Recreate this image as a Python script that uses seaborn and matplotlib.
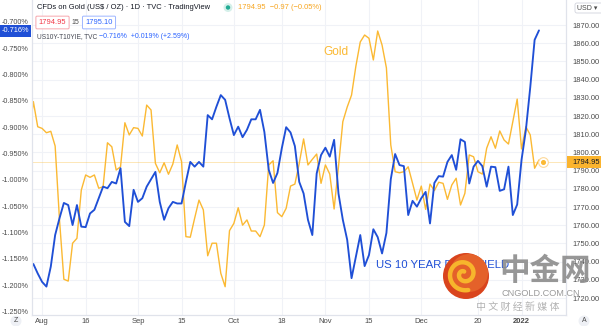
import numpy as np
import pandas as pd
import matplotlib
matplotlib.use("Agg")
import matplotlib.pyplot as plt
import matplotlib.transforms as mtransforms
from matplotlib.patches import Circle, Rectangle, FancyBboxPatch
from matplotlib.lines import Line2D
import seaborn as sns

# ---- data -------------------------------------------------------------
trading_days = pd.bdate_range("2021-07-28", "2022-01-10")

gold_close = [
    1807.9, 1827.9, 1814.1, 1813.2, 1810.8, 1811.6, 1803.5, 1762.9, 1730.3, 1729.3,
    1750.1, 1752.8, 1779.3, 1787.6, 1786.3, 1787.6, 1780.3, 1781.2, 1805.3, 1803.1,
    1790.3, 1792.1, 1816.3, 1809.6, 1813.6, 1813.2, 1809.0, 1826.0, 1823.3, 1794.0,
    1788.8, 1794.3, 1788.0, 1793.6, 1804.1, 1794.9, 1753.7, 1753.4, 1763.8, 1773.8,
    1768.4, 1743.2, 1750.1, 1750.1, 1733.6, 1726.2, 1757.0, 1761.0, 1769.6, 1760.0,
    1762.9, 1756.8, 1756.8, 1753.7, 1760.1, 1793.1, 1795.4, 1766.9, 1764.7, 1769.3,
    1781.5, 1782.6, 1794.0, 1807.4, 1793.1, 1796.2, 1799.1, 1783.0, 1793.1, 1788.1,
    1768.9, 1792.1, 1816.9, 1824.9, 1831.5, 1847.5, 1860.7, 1864.5, 1862.7, 1850.8,
    1866.7, 1859.0, 1846.4, 1804.1, 1789.4, 1788.8, 1789.4, 1792.1, 1783.0, 1773.8,
    1781.5, 1768.7, 1782.6, 1779.0, 1783.6, 1783.0, 1774.2, 1782.1, 1785.8, 1771.1,
    1777.5, 1798.6, 1797.6, 1789.4, 1788.1, 1802.3, 1808.6, 1802.3, 1811.8, 1806.8,
    1804.6, 1816.9, 1829.3, 1801.9, 1814.1, 1809.6, 1791.3, 1795.8, 1794.95,
]

real_yield = [
    -1.168, -1.160, -1.178, -1.194, -1.203, -1.165, -1.105, -1.073, -1.044, -1.048,
    -1.086, -1.048, -1.089, -1.090, -1.064, -1.057, -1.035, -1.013, -1.016, -1.004,
    -1.007, -0.978, -1.080, -1.088, -1.019, -1.042, -1.035, -1.013, -0.999, -0.985,
    -1.042, -1.076, -1.054, -1.042, -1.045, -1.045, -1.004, -0.966, -0.975, -0.966,
    -0.975, -0.877, -0.885, -0.861, -0.839, -0.848, -0.883, -0.915, -0.899, -0.919,
    -0.905, -0.885, -0.885, -0.867, -0.909, -0.981, -1.006, -0.987, -0.940, -0.900,
    -0.910, -0.936, -1.004, -1.026, -1.076, -1.105, -0.988, -0.953, -0.939, -0.956,
    -0.924, -1.026, -1.076, -1.114, -1.187, -1.146, -1.105, -1.164, -1.143, -1.094,
    -1.109, -1.140, -1.101, -0.999, -0.951, -0.972, -0.974, -1.067, -1.040, -1.051,
    -1.035, -1.023, -1.083, -1.006, -0.993, -0.994, -0.966, -0.953, -0.981, -0.923,
    -0.928, -1.007, -0.975, -0.964, -0.974, -1.013, -0.975, -0.976, -1.021, -1.018,
    -0.975, -1.067, -1.047, -0.962, -0.905, -0.824, -0.734, -0.716,
]

tick_dates = ["2021-08-02", "2021-08-16", "2021-09-01", "2021-09-15", "2021-10-01",
              "2021-10-18", "2021-11-01", "2021-11-15", "2021-12-01", "2021-12-20",
              "2022-01-03"]
tick_labels = ["Aug", "16", "Sep", "15", "Oct", "18", "Nov", "15", "Dec", "20", "2022"]

yield_ticks = [-0.70, -0.75, -0.80, -0.85, -0.90, -0.95, -1.00, -1.05, -1.10, -1.15,
               -1.20, -1.25]
gold_ticks = [1720, 1730, 1740, 1750, 1760, 1770, 1780, 1790, 1800, 1810, 1820, 1830,
              1840, 1850, 1860, 1870]

# ---- style ------------------------------------------------------------
sns.set_theme(style="white")
plt.rcParams["font.family"] = ["Liberation Sans", "Noto Sans CJK SC", "DejaVu Sans"]

GOLD = "#fbb933"
BLUE = "#1f4fd6"
TXT = "#4a4a4a"
GRID = "#f0f2f7"
EDGE = "#e0e3eb"

W, H = 601, 326
fig = plt.figure(figsize=(W / 100, H / 100), dpi=100, facecolor="white")
PIX = mtransforms.IdentityTransform()


def fx(x):
    return x / W


def fy(y):
    return 1 - y / H


ax = fig.add_axes([fx(32), (H - 315) / H, (566 - 32) / W, 315 / H])
ax2 = ax.twinx()

x_gold = np.arange(len(gold_close))
x_yield = np.arange(len(real_yield))

sns.lineplot(x=x_gold, y=gold_close, ax=ax, color=GOLD, linewidth=1.0)
sns.lineplot(x=x_yield, y=real_yield, ax=ax2, color=BLUE, linewidth=1.35)

# last price line and marker
ax.axhline(gold_close[-1], color=GOLD, lw=0.7, alpha=0.35)
ax.plot(x_gold[-1], gold_close[-1], "o", ms=7, mfc="white", mec="#fdd99a", mew=0.8, zorder=5)
ax.plot(x_gold[-1], gold_close[-1], "o", ms=2.6, color=GOLD, zorder=6)

ax.set_xlim(0.69, 123.2)
ax.set_ylim(1710.66, 1883.74)
ax2.set_ylim(-1.2570, -0.6582)

tick_idx = trading_days.get_indexer(pd.to_datetime(tick_dates))
ax.set_xticks(tick_idx)
ax.set_xticklabels(tick_labels)
for lbl in ax.get_xticklabels():
    if lbl.get_text() == "2022":
        lbl.set_fontweight("bold")

ax.set_yticks(gold_ticks)
ax.set_yticklabels([f"{v:.2f}" for v in gold_ticks])
ax.yaxis.tick_right()
ax2.set_yticks(yield_ticks)
ax2.set_yticklabels([f"{v:.3f}%" for v in yield_ticks])
ax2.yaxis.tick_left()

ax.tick_params(axis="x", length=0, pad=2.5, labelsize=5.5, colors=TXT)
ax.tick_params(axis="y", length=0, pad=4.3, labelsize=5.4, colors=TXT)
ax2.tick_params(axis="y", length=0, pad=2.3, labelsize=5.2, colors=TXT)
ax2.tick_params(axis="x", length=0)

ax.grid(True, color=GRID, lw=0.8)
ax2.grid(False)
for a in (ax, ax2):
    a.set_xlabel("")
    a.set_ylabel("")
    for side, sp in a.spines.items():
        sp.set_color(EDGE)
        sp.set_linewidth(0.8)
        if side == "top":
            sp.set_visible(False)

# series names drawn inside the plot
fig.text(fx(323), fy(52), "Gold", color=GOLD, fontsize=8.6, va="center", ha="left")
fig.text(fx(376), fy(265), "US 10 YEAR REAL YIELD", color=BLUE, fontsize=8.2,
         va="center", ha="left")

# ---- header legend ----------------------------------------------------
fig.text(fx(37), fy(7.5), "CFDs on Gold (US$ / OZ) · 1D · TVC · TradingView",
         fontsize=5.45, color="#131722", va="center", ha="left", parse_math=False)
fig.patches.append(Circle((228, H - 7.5), 4.5, transform=PIX,
                          fc="#d5f0ea", ec="none", figure=fig))
fig.patches.append(Circle((228, H - 7.5), 2.2, transform=PIX,
                          fc="#22ab94", ec="none", figure=fig))
fig.text(fx(238), fy(7.5), "1794.95  −0.97 (−0.05%)", fontsize=5.45, color="#f7a51f",
         va="center", ha="left")

fig.text(fx(52.5), fy(22.5), "1794.95", fontsize=5.4, color="#f23645", va="center",
         ha="center", bbox=dict(boxstyle="round,pad=0.38,rounding_size=0.15",
                                fc="white", ec="#f7a6ad", lw=0.7))
fig.text(fx(75), fy(22.5), "15", fontsize=5.0, color=TXT, va="center", ha="center")
fig.text(fx(99), fy(22.5), "1795.10", fontsize=5.4, color="#2962ff", va="center",
         ha="center", bbox=dict(boxstyle="round,pad=0.38,rounding_size=0.15",
                                fc="white", ec="#9db5ff", lw=0.7))

fig.text(fx(37), fy(37), "US10Y-T10YIE, TVC", fontsize=4.7, color="#434651",
         va="center", ha="left")
fig.text(fx(99), fy(37), "−0.716%  +0.019% (+2.59%)", fontsize=5.0, color="#2962ff",
         va="center", ha="left")

# current value badges on the scales
fig.patches.append(Rectangle((0, H - 36.5), 30.5, 11.5, transform=PIX,
                             fc="#1f4fd6", ec="none", figure=fig, zorder=5))
fig.text(fx(15.5), fy(30.8), "-0.716%", fontsize=5.3, color="white", va="center",
         ha="center", zorder=6)

fig.patches.append(Rectangle((566.5, H - 168), 35, 12, transform=PIX,
                             fc="#fbb42e", ec="none", figure=fig, zorder=5))
fig.text(fx(572), fy(162), "1794.95", fontsize=5.4, color="#131722", va="center",
         ha="left", zorder=6)

fig.patches.append(FancyBboxPatch((575, H - 13), 30, 10,
                                  boxstyle="round,pad=0,rounding_size=2",
                                  transform=PIX, fc="white", ec="#d1d4dc", lw=0.6,
                                  figure=fig, zorder=5))
fig.text(fx(577), fy(8), "USD ▾", fontsize=5.0, color=TXT, va="center", ha="left",
         zorder=6)

# bottom-corner scale buttons
for bx, letter in ((16, "Z"), (584, "A")):
    fig.patches.append(Circle((bx, H - 321), 5.5, transform=PIX,
                              fc="#eef0f5", ec="none", figure=fig))
    fig.text(fx(bx), fy(321), letter, fontsize=5.0, color=TXT, va="center", ha="center")

# ---- watermark --------------------------------------------------------
cx, cy = 466, H - 276
fig.patches.append(Circle((cx, cy), 23, transform=PIX,
                          fc="#d9441d", ec="none", figure=fig, zorder=8))
fig.patches.append(Circle((cx + 3, cy + 3), 19, transform=PIX,
                          fc="#e4612a", ec="none", figure=fig, zorder=8))
theta = np.linspace(0.3, 3.2 * np.pi, 200)
rad = 2.0 + 1.45 * theta
sx = cx - 2 + rad * np.cos(theta + 1.2)
sy = cy + 2 + rad * np.sin(theta + 1.2)
fig.lines.append(Line2D(sx, sy, transform=PIX, color="#f7b52c", lw=3.2,
                        solid_capstyle="round", figure=fig, zorder=9))

fig.text(fx(545), fy(271), "中金网", fontsize=22, fontweight="bold", color="#8e8e8e",
         alpha=0.92, va="center", ha="center", family=["Noto Sans CJK SC"], zorder=10)
fig.text(fx(541), fy(294), "CNGOLD.COM.CN", fontsize=6.6, color="#9a9a9a",
         va="center", ha="center", zorder=10)
fig.text(fx(518), fy(306.5), "中 文 财 经 新 媒 体", fontsize=7.2, color="#b3b3b3",
         va="center", ha="center", family=["Noto Sans CJK SC"], zorder=10)

fig.savefig("out.png", dpi=100, facecolor="white")
